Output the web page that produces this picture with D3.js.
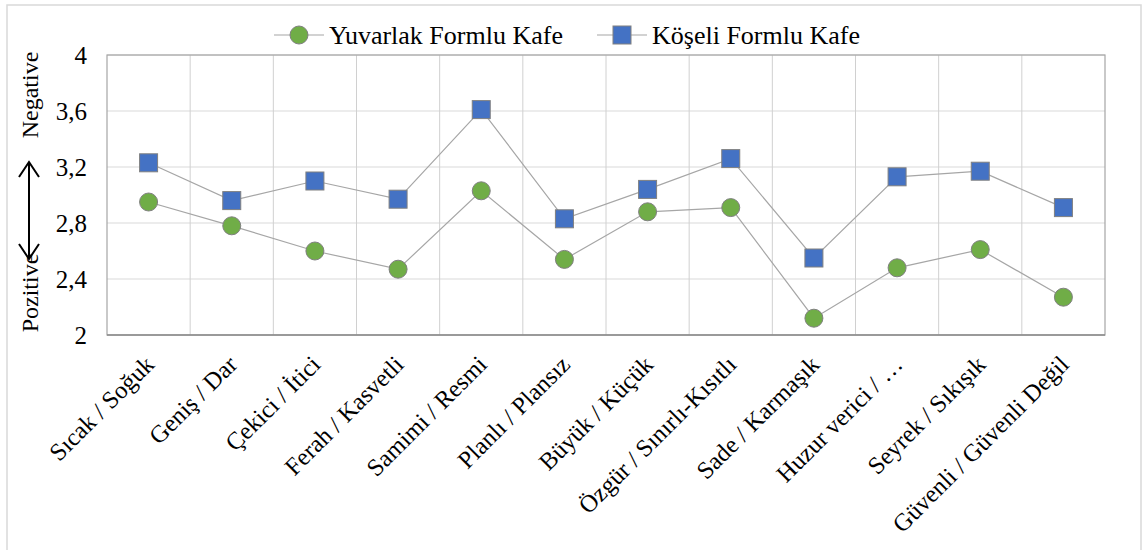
<!DOCTYPE html>
<html><head><meta charset="utf-8">
<script src="https://cdn.jsdelivr.net/npm/d3@7"></script>
<style>body{margin:0;background:#fff}svg{display:block}svg text{font-family:"Liberation Serif","Times New Roman",Times,serif !important;fill:#000}</style>
</head><body><svg id="c" width="1146" height="550"></svg>
<script>
const categories = ["Sıcak / Soğuk","Geniş / Dar","Çekici / İtici","Ferah / Kasvetli","Samimi / Resmi","Planlı / Plansız","Büyük / Küçük","Özgür / Sınırlı-Kısıtlı","Sade / Karmaşık","Huzur verici / …","Seyrek / Sıkışık","Güvenli / Güvenli Değil"];
const yuvarlak = [2.95,2.78,2.60,2.47,3.03,2.54,2.88,2.91,2.12,2.48,2.61,2.27];
const koseli = [3.23,2.96,3.10,2.97,3.61,2.83,3.04,3.26,2.55,3.13,3.17,2.91];
const yTicks = [2,2.4,2.8,3.2,3.6,4];
const seriesNames = ["Yuvarlak Formlu Kafe","Köşeli Formlu Kafe"];
const seriesColors = ["#70AD47","#4472C4"];

const svg = d3.select("#c");
const L=107,R=1105,T=55,B=335;
svg.append("rect").attr("x",7).attr("y",5).attr("width",1134).attr("height",560).attr("fill","none").attr("stroke","#D9D9D9").attr("stroke-width",1.5);

const x = d3.scaleBand().domain(categories).range([L,R]);
const y = d3.scaleLinear().domain([2,4]).range([B,T]);

// grid
const g = svg.append("g");
g.selectAll(".hg").data(yTicks).join("line").attr("x1",L).attr("x2",R).attr("y1",d=>y(d)).attr("y2",d=>y(d)).attr("stroke","#D9D9D9").attr("stroke-width",1);
g.selectAll(".vg").data(categories.slice(1)).join("line").attr("x1",d=>x(d)).attr("x2",d=>x(d)).attr("y1",T).attr("y2",B).attr("stroke","#D0D0D0").attr("stroke-width",1);
g.append("rect").attr("x",L).attr("y",T).attr("width",R-L).attr("height",B-T).attr("fill","none").attr("stroke","#A6A6A6").attr("stroke-width",1.2);
g.append("line").attr("x1",L).attr("x2",R).attr("y1",B).attr("y2",B).attr("stroke","#8C8C8C").attr("stroke-width",1.5);

// y axis labels
const ya = svg.append("g").attr("transform",`translate(${L-20},0)`).call(d3.axisLeft(y).tickValues(yTicks).tickSize(0).tickPadding(0).tickFormat(d=>String(d).replace(".",",")));
ya.select(".domain").remove();
ya.selectAll("text").attr("font-size",25).attr("dy","0.34em");

// x axis labels
const xa = svg.append("g").attr("transform",`translate(0,${B})`).call(d3.axisBottom(x).tickSize(0).tickPadding(0));
xa.select(".domain").remove();
xa.selectAll("text").attr("font-size",24.5).attr("text-anchor","end")
  .attr("dy",null).attr("y",0).attr("transform","translate(7,31) rotate(-45)");

// lines and markers
const data=[yuvarlak,koseli];
const line = d3.line().x((d,i)=>x(categories[i])+x.bandwidth()/2).y(d=>y(d));
data.forEach((arr,k)=>{
  svg.append("path").attr("d",line(arr)).attr("fill","none").attr("stroke","#A6A6A6").attr("stroke-width",1.2);
});
svg.selectAll(".c").data(yuvarlak).join("circle").attr("cx",(d,i)=>x(categories[i])+x.bandwidth()/2).attr("cy",d=>y(d)).attr("r",9).attr("fill",seriesColors[0]).attr("stroke","#808080").attr("stroke-width",1);
svg.selectAll(".s").data(koseli).join("rect").attr("x",(d,i)=>x(categories[i])+x.bandwidth()/2-9).attr("y",d=>y(d)-9).attr("width",18).attr("height",18).attr("fill",seriesColors[1]).attr("stroke","#808080").attr("stroke-width",1);

// legend
const lg=[{x:274,name:seriesNames[0]},{x:597,name:seriesNames[1]}];
lg.forEach((o,k)=>{
  svg.append("line").attr("x1",o.x).attr("x2",o.x+50).attr("y1",35).attr("y2",35).attr("stroke","#A6A6A6").attr("stroke-width",1.2);
  if(k===0) svg.append("circle").attr("cx",o.x+25).attr("cy",35).attr("r",9).attr("fill",seriesColors[0]).attr("stroke","#808080");
  else svg.append("rect").attr("x",o.x+16).attr("y",26).attr("width",18).attr("height",18).attr("fill",seriesColors[1]).attr("stroke","#808080");
  svg.append("text").attr("x",o.x+55).attr("y",44).attr("font-size",26).text(o.name);
});

// y-axis titles
svg.append("text").attr("transform","translate(38,95) rotate(-90)").attr("text-anchor","middle").attr("font-size",24).text("Negative");
svg.append("text").attr("transform","translate(38,293) rotate(-90)").attr("text-anchor","middle").attr("font-size",24).text("Pozitive");
// double arrow
const ax=29, a1=162, a2=259;
svg.append("line").attr("x1",ax).attr("x2",ax).attr("y1",a1).attr("y2",a2).attr("stroke","#000").attr("stroke-width",2);
svg.append("path").attr("d",`M${ax-10},${a1+15} L${ax},${a1} L${ax+10},${a1+15}`).attr("fill","none").attr("stroke","#000").attr("stroke-width",2);
svg.append("path").attr("d",`M${ax-10},${a2-15} L${ax},${a2} L${ax+10},${a2-15}`).attr("fill","none").attr("stroke","#000").attr("stroke-width",2);
</script></body></html>
